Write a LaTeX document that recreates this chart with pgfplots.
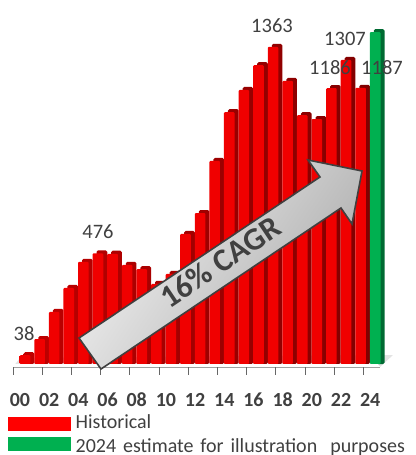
\documentclass[border=0pt]{standalone}
\usepackage{pgfplots}
\pgfplotsset{compat=1.18}
\usepackage{pgfplotstable}
\usepackage{fontspec}
\setmainfont{Carlito}
\definecolor{txt}{HTML}{404040}
\definecolor{redL}{HTML}{F00000}
\definecolor{redR}{HTML}{F00000}
\definecolor{redSL}{HTML}{C00000}
\definecolor{redSR}{HTML}{800000}
\definecolor{grn}{HTML}{00B050}
\definecolor{grnS}{HTML}{006A32}
\pgfplotstableread{
x v
0 38
1 107
2 224
3 327
4 439
5 476
6 474
7 426
8 408
9 344
10 387
11 559
12 649
13 873
14 1083
15 1178
16 1285
17 1363
18 1217
19 1070
20 1053
21 1186
22 1307
23 1187
}\hist
\pgfplotstableread{
x v
24 1427
}\est
\begin{document}
\begin{tikzpicture}[x=1pt,y=-1pt]
\path[use as bounding box] (0,0) rectangle (415,455);
% floor of the 3D chart
\fill[gray!22] (13,367) -- (20,358) -- (393,355) -- (380,367) -- cycle;
\begin{axis}[
  at={(19.7pt,-367pt)}, anchor=south west,
  scale only axis, width=364.8pt, height=351.9pt,
  xmin=-0.5, xmax=24.5, ymin=-12.9, ymax=1500,
  ybar, bar width=10.6pt,
  axis y line=none, axis x line*=bottom, x axis line style={draw=none},
  xtick={-0.48,1.52,3.52,5.52,7.52,9.52,11.52,13.52,15.52,17.52,19.52,21.52,23.52},
  xticklabels={00,02,04,06,08,10,12,14,16,18,20,22,24},
  major tick length=0pt, tick style={draw=none},
  xticklabel style={font=\fontsize{20}{20}\selectfont\bfseries, text=txt, yshift=-33pt, inner sep=0pt, anchor=center},
  clip=false,
  legend style={at={(axis description cs:-0.032,-0.1336)}, anchor=north west, draw=none, fill=none, inner sep=0pt,
    font=\fontsize{20}{20}\selectfont, text=txt, row sep=4.5pt,
    nodes={inner sep=0pt, text depth=4pt, text height=14pt}},
  legend cell align=left,
]
\addplot[forget plot, draw=none, left color=redSL, right color=redSR, bar shift=2pt, rounded corners=1.5pt] table[x=x, y expr=\thisrow{v}+13] {\hist};
\addplot[forget plot, draw=none, left color=redL, middle color=red, right color=redR, bar shift=-2pt, rounded corners=1pt] table[x=x,y=v] {\hist};
\addplot[forget plot, draw=none, fill=grnS, bar shift=2pt, rounded corners=1.5pt] table[x=x, y expr=\thisrow{v}+13] {\est};
\addplot[forget plot, draw=none, fill=grn, bar shift=-2pt, rounded corners=1pt] table[x=x,y=v] {\est};
\addlegendimage{legend image code/.code={\fill[red] (0pt,-6.5pt) rectangle (62pt,6.5pt);}}
\addlegendentry{\hskip 5pt Historical}
\addlegendimage{legend image code/.code={\fill[grn] (0pt,-2pt) rectangle (62pt,11pt);}}
\addlegendentry{\hskip 5pt\spaceskip=6.9pt 2024 estimate for illustration\hskip 13pt purposes}
\end{axis}
% front edge of the floor and its ticks
\draw[gray!75, line width=1.4pt] (13,367.5) -- (380,367.5);
\fill[white] (14,364) -- (378,364) -- (380,366.8) -- (13,366.8) -- cycle;
\foreach \k in {0,...,12} \draw[gray!80!black, line width=1pt] ({13+29.2*\k},367) -- ++(0,8);
% arrow
\draw[draw=txt, line width=1.6pt, line join=miter, shading=axis, left color=gray!10, right color=gray!65, shading angle=56]
  (79,338) -- (320,177) -- (308,160) -- (362,171) -- (352,224) -- (341,208) -- (101,369) -- cycle;
\node[font=\fontsize{32}{32}\selectfont\bfseries, text=txt, rotate=33.8, inner sep=0pt] at (220,262) {16\% CAGR};
% value labels
\begin{scope}[every node/.style={font=\fontsize{20.5}{20}\selectfont, text=txt, inner sep=0pt}]
\node at (24,334) {38};
\node at (98,232) {476};
\node at (272,26) {1363};
\node at (345,39) {1307};
\node at (330,68) {1186};
\node at (382,68) {1187};
\end{scope}
\end{tikzpicture}
\end{document}
